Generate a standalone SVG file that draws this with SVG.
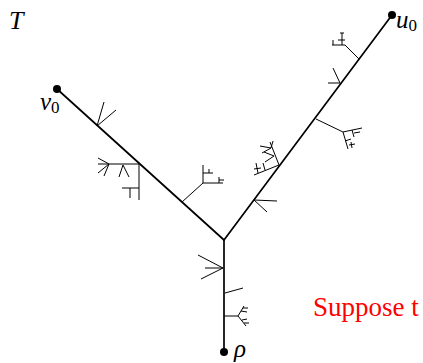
<svg xmlns="http://www.w3.org/2000/svg" width="423" height="363" viewBox="0 0 423 363">
<style>
.main{stroke:#000;stroke-width:1.7;fill:none;stroke-linecap:round}
.sub{stroke:#000;stroke-width:1;fill:none}
.lab{font-family:"Liberation Serif","DejaVu Serif",serif;font-style:italic;fill:#000}
.sb{font-family:"Liberation Serif","DejaVu Serif",serif;fill:#000}
.red{font-family:"Liberation Serif","DejaVu Serif",serif;fill:#ff0000}
</style>
<rect width="423" height="363" fill="#fff"/>
<g id="connectors">
<line class="main" x1="224" y1="352" x2="224" y2="240"/>
<line class="main" x1="224" y1="240" x2="57" y2="89"/>
<line class="main" x1="224" y1="240" x2="392" y2="15"/>
<g class="sub">
<line x1="97" y1="126" x2="104" y2="102"/>
<line x1="97" y1="126" x2="116" y2="110"/>
<line x1="139" y1="164" x2="98" y2="164"/>
<line x1="139" y1="164" x2="139" y2="200"/>
<line x1="109" y1="164" x2="98" y2="158"/>
<line x1="109" y1="164" x2="98" y2="173"/>
<line x1="109" y1="164" x2="104" y2="176"/>
<line x1="123" y1="165" x2="119" y2="177"/>
<line x1="123" y1="165" x2="129" y2="177"/>
<line x1="122" y1="188" x2="139" y2="188"/>
<line x1="130" y1="188" x2="130" y2="198"/>
<line x1="182" y1="202" x2="203" y2="183"/>
<line x1="203" y1="183" x2="203" y2="165"/>
<line x1="203" y1="173" x2="213" y2="173"/>
<line x1="209" y1="169" x2="209" y2="173"/>
<line x1="203" y1="183" x2="223" y2="183"/>
<line x1="219" y1="177" x2="219" y2="183"/>
<line x1="219" y1="180" x2="224" y2="180"/>
<line x1="223" y1="268" x2="198" y2="255"/>
<line x1="223" y1="268" x2="205" y2="268"/>
<line x1="223" y1="268" x2="201" y2="279"/>
<line x1="225" y1="293" x2="243" y2="288"/>
<line x1="224" y1="316" x2="238" y2="316"/>
<line x1="238" y1="316" x2="244" y2="306"/>
<line x1="238" y1="316" x2="246" y2="326"/>
<line x1="241" y1="311" x2="247" y2="312"/>
<line x1="243" y1="308" x2="248" y2="308"/>
<line x1="242" y1="320" x2="247" y2="319"/>
<line x1="244" y1="323" x2="249" y2="323"/>
<line x1="254" y1="200" x2="277" y2="201"/>
<line x1="254" y1="200" x2="267" y2="212"/>
<line x1="279" y1="165" x2="254" y2="175"/>
<line x1="258" y1="173" x2="256" y2="163"/>
<line x1="254" y1="169" x2="261" y2="168"/>
<line x1="265" y1="170" x2="263" y2="163"/>
<line x1="279" y1="165" x2="270" y2="142"/>
<line x1="274" y1="156" x2="264" y2="152"/>
<line x1="274" y1="156" x2="265" y2="162"/>
<line x1="271" y1="148" x2="260" y2="146"/>
<line x1="271" y1="148" x2="262" y2="153"/>
<line x1="271" y1="148" x2="273" y2="141"/>
<line x1="316" y1="119" x2="343" y2="132"/>
<line x1="343" y1="132" x2="362" y2="128"/>
<line x1="343" y1="132" x2="348" y2="149"/>
<line x1="352" y1="130" x2="354" y2="137"/>
<line x1="354" y1="133" x2="360" y2="132"/>
<line x1="345" y1="141" x2="351" y2="139"/>
<line x1="349" y1="145" x2="355" y2="144"/>
<line x1="351" y1="142" x2="352" y2="148"/>
<line x1="340" y1="83" x2="333" y2="68"/>
<line x1="340" y1="83" x2="328" y2="83"/>
<line x1="359" y1="59" x2="345" y2="45"/>
<line x1="345" y1="45" x2="332" y2="45"/>
<line x1="342" y1="45" x2="342" y2="33"/>
<line x1="338" y1="40" x2="345" y2="40"/>
<line x1="340" y1="33" x2="344" y2="33"/>
<line x1="333" y1="40" x2="333" y2="45"/>
</g>
</g>
<g id="node-rho">
<circle cx="224" cy="352" r="4" fill="#000"/>
<text class="lab" x="234" y="357" font-size="25">ρ</text>
</g>
<g id="node-v0">
<circle cx="57" cy="89" r="4" fill="#000"/>
<text class="lab" x="40" y="110" font-size="25">v<tspan class="sb" font-style="normal" font-size="17" dy="3">0</tspan></text>
</g>
<g id="node-u0">
<circle cx="392" cy="15" r="4" fill="#000"/>
<text class="lab" x="396" y="28" font-size="25">u<tspan class="sb" font-style="normal" font-size="17" dy="3">0</tspan></text>
</g>
<g id="label-T">
<text class="lab" x="9" y="29" font-size="26">T</text>
</g>
<g id="label-suppose">
<text class="red" x="313" y="316" font-size="27">Suppose t</text>
</g>
</svg>
